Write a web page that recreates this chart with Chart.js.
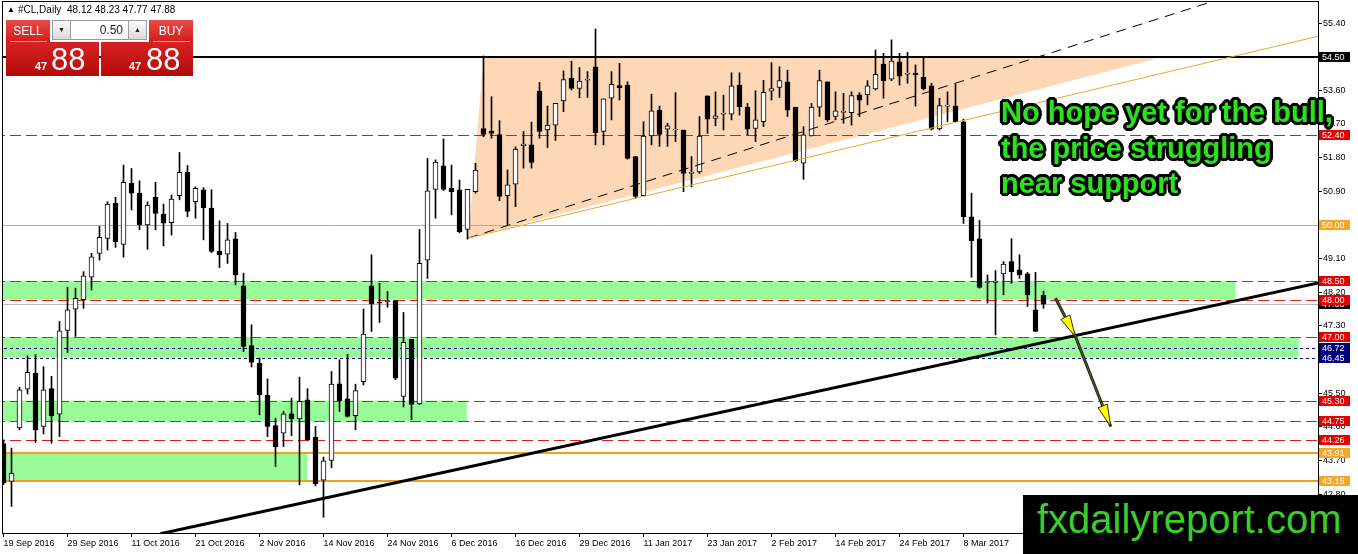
<!DOCTYPE html>
<html>
<head>
<meta charset="utf-8">
<title>#CL Daily</title>
<script src="https://cdn.jsdelivr.net/npm/chart.js@4.4.1/dist/chart.umd.min.js"></script>
<style>
  html, body { margin: 0; padding: 0; background: #fff; }
  #wrap { position: relative; width: 1358px; height: 554px; overflow: hidden; font-family: "Liberation Sans", Arial, sans-serif; }
  #c { position: absolute; left: 0; top: 0; }
  .abs { position: absolute; white-space: nowrap; }
  .hdr { font-size: 10px; line-height: 12px; top: 4px; color: #000; }
  .red { background: linear-gradient(#ea4a46, #d21c1c); color: #fff; }
  .big { background: linear-gradient(#d82222, #b40a0a); color: #fff; }
  .grey { background: linear-gradient(#fbfbfb, #d9d9d9); border: 1px solid #9c9c9c; box-sizing: border-box; color: #222; font-size: 7px; text-align: center; line-height: 18px; }
  .note { left: 1001px; font-weight: bold; font-size: 29px; line-height: 35.5px; color: #2be31c;
    text-shadow: 3px 0 #000, -3px 0 #000, 0 3px #000, 0 -3px #000, 2px 2px #000, -2px -2px #000, 2px -2px #000, -2px 2px #000,
                 3px 1px #000, -3px 1px #000, 3px -1px #000, -3px -1px #000, 1px 3px #000, -1px 3px #000, 1px -3px #000, -1px -3px #000; }
</style>
</head>
<body>
<div id="wrap">
  <canvas id="c" width="1358" height="554"></canvas>

  <!-- symbol header -->
  <div class="abs hdr" style="left:7px;font-size:8px;">&#9650;</div>
  <div class="abs hdr" style="left:18px;">#CL,Daily</div>
  <div class="abs hdr" style="left:67px;">48.12 48.23 47.77 47.88</div>

  <!-- one click trading panel -->
  <div class="abs red" style="left:6px;top:20px;width:44px;height:22px;font-size:12px;line-height:22px;text-align:center;">SELL</div>
  <div class="abs grey" style="left:52px;top:20px;width:19px;height:20px;">&#9660;</div>
  <div class="abs" style="left:71px;top:20px;width:57px;height:20px;background:#fff;border-top:1px solid #9c9c9c;border-bottom:1px solid #9c9c9c;box-sizing:border-box;font-size:12px;line-height:18px;text-align:right;padding-right:5px;color:#222;">0.50</div>
  <div class="abs grey" style="left:128px;top:20px;width:19px;height:20px;">&#9650;</div>
  <div class="abs red" style="left:149px;top:20px;width:44px;height:22px;font-size:12px;line-height:22px;text-align:center;">BUY</div>
  <div class="abs" style="left:10px;top:41px;width:37px;height:1px;background:#f29a9a;"></div>
  <div class="abs" style="left:153px;top:41px;width:37px;height:1px;background:#f29a9a;"></div>
  <div class="abs big" style="left:6px;top:42px;width:93px;height:34px;">
    <span class="abs" style="left:29px;top:18.7px;font-size:11px;line-height:11px;font-weight:bold;">47</span>
    <span class="abs" style="left:45px;top:1.8px;font-size:31px;line-height:31px;">88</span>
  </div>
  <div class="abs big" style="left:101px;top:42px;width:92px;height:34px;">
    <span class="abs" style="left:28px;top:18.7px;font-size:11px;line-height:11px;font-weight:bold;">47</span>
    <span class="abs" style="left:45px;top:1.8px;font-size:31px;line-height:31px;">88</span>
  </div>

  <!-- comment -->
  <div class="abs note" style="top:95px;">No hope yet for the bull,</div>
  <div class="abs note" style="top:130.5px;">the price struggling</div>
  <div class="abs note" style="top:166px;">near support</div>

  <!-- logo -->
  <div class="abs" style="left:1023px;top:495px;width:335px;height:59px;background:#000;">
    <span class="abs" style="left:14px;top:4px;font-size:40px;line-height:40px;color:#3ccd2a;">fxdailyreport.com</span>
  </div>
</div>

<script>
// daily bars, oldest first (19 Sep 2016 .. 22 Mar 2017)
const opens = [
  44.15, 43.14, 44.57, 45.61, 46.04, 44.61, 45.62, 44.94, 47.18, 47.75,
  48.00, 48.60, 49.24, 49.64, 50.58, 49.48, 51.12, 50.85, 50.00, 50.74,
  50.29, 50.06, 50.78, 51.41, 50.62, 50.94, 50.45, 49.30, 49.22, 49.63,
  48.37, 46.77, 46.30, 45.45, 44.63, 44.43, 44.95, 44.81, 45.32, 44.32,
  43.17, 43.70, 45.75, 45.35, 44.90, 45.81, 48.37, 47.93, 47.95, 47.98,
  45.41, 46.94, 45.21, 49.06, 50.95, 51.58, 50.98, 50.94, 49.88, 50.89,
  52.58, 52.51, 52.42, 50.78, 51.09, 52.12, 52.14, 53.58, 52.54, 52.67,
  53.32, 53.92, 53.65, 53.87, 54.23, 52.50, 53.39, 53.73, 53.74, 51.83,
  50.78, 52.38, 53.07, 52.56, 52.54, 52.54, 51.38, 51.42, 53.45, 52.85,
  52.96, 52.96, 53.74, 53.15, 52.58, 52.76, 53.58, 53.68, 53.83, 53.15,
  51.65, 52.38, 53.15, 53.83, 52.90, 53.01, 53.00, 53.48, 53.48, 53.64,
  54.30, 53.90, 54.36, 54.03, 54.06, 53.95, 53.72, 52.57, 53.18, 53.18,
  52.76, 50.22, 49.63, 48.46, 48.46, 48.69, 49.02, 48.80, 48.69, 47.73,
  48.12
];
const highs = [
  44.25, 44.03, 45.66, 46.50, 46.53, 46.21, 45.95, 47.42, 48.33, 48.31,
  48.75, 49.24, 49.96, 50.62, 50.74, 51.60, 51.51, 51.18, 50.62, 51.14,
  50.56, 50.80, 51.94, 51.59, 51.02, 51.00, 50.94, 50.11, 50.04, 49.80,
  48.71, 47.33, 46.44, 45.88, 44.83, 45.01, 45.37, 45.93, 45.62, 44.61,
  43.79, 46.08, 46.39, 46.54, 45.74, 47.75, 49.20, 48.44, 48.22, 47.98,
  47.66, 46.94, 49.88, 51.78, 51.74, 52.30, 51.60, 51.20, 50.95, 51.65,
  54.52, 53.43, 52.79, 51.47, 52.09, 52.50, 52.75, 53.81, 53.18, 53.25,
  54.12, 54.38, 54.21, 54.10, 55.24, 53.37, 54.10, 54.32, 53.83, 51.83,
  52.76, 53.50, 53.18, 52.72, 53.54, 52.54, 51.83, 52.90, 53.45, 53.56,
  53.47, 54.07, 54.07, 53.25, 53.59, 53.87, 54.34, 54.23, 54.14, 53.15,
  52.63, 53.25, 54.14, 53.83, 53.56, 53.52, 53.56, 53.54, 53.86, 54.68,
  54.59, 54.95, 54.59, 54.62, 54.28, 54.46, 53.79, 53.39, 53.56, 53.76,
  52.83, 50.85, 50.12, 48.66, 48.78, 49.02, 49.63, 49.20, 48.73, 48.73,
  48.23
];
const lows = [
  43.05, 42.47, 44.52, 45.48, 44.18, 44.41, 44.16, 44.34, 46.59, 47.02,
  47.77, 48.26, 49.06, 49.33, 49.40, 49.14, 50.40, 49.87, 49.35, 49.87,
  49.44, 49.73, 50.67, 50.22, 50.18, 49.60, 49.26, 48.86, 48.97, 48.40,
  46.61, 46.20, 44.92, 44.34, 43.54, 44.07, 44.36, 43.05, 44.25, 43.02,
  42.18, 43.51, 45.01, 44.86, 44.52, 45.72, 47.15, 47.39, 47.80, 45.86,
  45.13, 44.79, 45.19, 48.57, 50.18, 50.92, 50.27, 49.79, 49.62, 50.85,
  52.36, 52.32, 50.65, 50.00, 50.49, 51.52, 51.52, 52.32, 52.07, 52.26,
  53.03, 53.61, 53.40, 53.41, 52.14, 52.14, 52.81, 53.34, 51.76, 50.71,
  50.78, 52.14, 52.10, 52.10, 52.23, 50.89, 51.02, 51.38, 52.45, 52.65,
  52.54, 52.81, 52.94, 52.41, 52.23, 52.63, 53.34, 53.41, 52.90, 51.69,
  51.22, 52.38, 52.90, 52.76, 52.81, 52.72, 52.67, 52.90, 53.21, 53.61,
  53.39, 53.86, 53.74, 53.79, 53.18, 53.61, 52.54, 52.54, 52.76, 52.76,
  50.04, 48.60, 48.31, 47.91, 47.06, 48.13, 48.44, 48.57, 47.82, 47.15,
  47.77
];
const closes = [
  43.10, 43.36, 45.59, 46.06, 44.52, 45.59, 44.90, 47.17, 47.73, 48.04,
  48.64, 49.15, 49.67, 50.56, 49.55, 51.14, 50.85, 50.00, 50.53, 50.31,
  50.05, 50.69, 51.41, 50.36, 50.98, 50.46, 49.29, 49.20, 49.60, 48.66,
  46.75, 46.32, 45.45, 44.61, 44.07, 44.95, 44.81, 45.28, 44.25, 43.08,
  43.69, 45.74, 45.30, 44.88, 45.57, 47.08, 47.89, 47.91, 47.98, 45.90,
  46.86, 45.20, 48.97, 50.91, 51.68, 50.95, 50.89, 49.82, 50.95, 51.47,
  52.42, 52.45, 50.76, 51.07, 52.03, 52.16, 51.67, 52.50, 52.67, 53.25,
  53.89, 53.65, 53.85, 53.89, 52.47, 53.37, 53.76, 53.67, 51.78, 50.76,
  52.38, 53.05, 52.42, 52.65, 52.54, 51.38, 51.38, 52.38, 52.83, 52.92,
  52.96, 53.72, 53.16, 52.56, 52.81, 53.55, 53.65, 53.86, 53.07, 51.72,
  52.41, 53.15, 53.86, 52.81, 53.05, 53.01, 53.46, 53.34, 53.72, 54.03,
  53.85, 54.38, 53.98, 54.03, 54.01, 53.64, 52.56, 53.19, 53.18, 52.76,
  50.22, 49.58, 48.33, 48.46, 48.50, 48.95, 48.75, 48.66, 48.13, 47.15,
  47.88
];

// date labels, one every 8 bars
const dateTicks = [
  '19 Sep 2016', '29 Sep 2016', '11 Oct 2016', '21 Oct 2016', '2 Nov 2016', '14 Nov 2016',
  '24 Nov 2016', '6 Dec 2016', '16 Dec 2016', '29 Dec 2016', '11 Jan 2017', '23 Jan 2017',
  '2 Feb 2017', '14 Feb 2017', '24 Feb 2017', '8 Mar 2017'
];
const priceTicks = [55.40, 54.50, 53.60, 52.70, 51.80, 50.90, 50.00, 49.10, 48.20, 47.30, 46.40, 45.50, 44.60, 43.70, 42.80];

// drawn objects on the chart (bar index / price)
const RED = '#dc1c1c', ORANGE = '#f0a21e', GOLD = '#e8a82a', NAVY = '#00007a';
const DASH = [11, 5];
const levels = [
  { p: 54.50, color: '#000', w: 2, dash: [], label: '#000' },
  { p: 52.40, color: RED, w: 1, dash: DASH, label: '#e60000' },
  { p: 50.00, color: GOLD, w: 1, dash: [], label: '#f5a623' },
  { p: 48.50, color: RED, w: 1, dash: DASH, label: '#e60000' },
  { p: 47.88, color: '#b8b8b8', w: 1, dash: [], label: '#000' },
  { p: 48.00, color: RED, w: 1, dash: DASH, label: '#e60000' },
  { p: 47.00, color: RED, w: 1, dash: DASH, label: '#e60000' },
  { p: 46.72, color: NAVY, w: 1, dash: [3, 3], label: NAVY },
  { p: 46.45, color: NAVY, w: 1, dash: [3, 3], label: NAVY },
  { p: 45.30, color: RED, w: 1, dash: DASH, label: '#e60000' },
  { p: 44.75, color: RED, w: 1, dash: DASH, label: '#e60000' },
  { p: 44.26, color: RED, w: 1, dash: DASH, label: '#e60000' },
  { p: 43.91, color: ORANGE, w: 2, dash: [], label: '#f5a623' },
  { p: 43.15, color: ORANGE, w: 2, dash: [], label: '#f5a623' }
];
const zones = [
  { lo: 48.00, hi: 48.50, end: 154.0 },
  { lo: 46.45, hi: 47.00, end: 161.9 },
  { lo: 44.75, hi: 45.30, end: 57.9 },
  { lo: 43.15, hi: 43.91, end: 38.0 }
];
const wedge = [[60.0, 54.48], [58.1, 49.65], [144.25, 54.46]];
const trendLines = [
  { a: [58.1, 49.65], b: [150.6, 55.94], color: '#000', w: 1, dash: [10, 7] },
  { a: [58.1, 49.65], b: [164.4, 55.05], color: GOLD, w: 1, dash: [] },
  { a: [19.6, 41.74], b: [164.4, 48.45], color: '#000', w: 3, dash: [] }
];
const arrowPath = [[131.5, 48.04], [134.0, 47.01], [138.4, 44.61]];

const bodies = opens.map((o, i) => ({ x: i, y: [o, closes[i]] }));
const wicks = lows.map((l, i) => ({ x: i, y: [l, highs[i]] }));

function head(ctx, x0, y0, x1, y1) {
  const a = Math.atan2(y1 - y0, x1 - x0), len = 22, half = 5;
  const bx = x1 - len * Math.cos(a), by = y1 - len * Math.sin(a);
  ctx.beginPath();
  ctx.moveTo(x1, y1);
  ctx.lineTo(bx + half * Math.sin(a), by - half * Math.cos(a));
  ctx.lineTo(bx - half * Math.sin(a), by + half * Math.cos(a));
  ctx.closePath();
  ctx.fillStyle = '#ffff00';
  ctx.fill();
  ctx.strokeStyle = '#303020';
  ctx.lineWidth = 1;
  ctx.stroke();
}

// no extra padding for edge tick labels, so the plot fills the frame
function noEdgePad(s) {
  s.paddingTop = 0;
  s.paddingBottom = 0;
  s.paddingLeft = 0;
  s.paddingRight = 0;
}

const objects = {
  id: 'objects',
  beforeDatasetsDraw(chart) {
    const { ctx, chartArea: ca, scales: { x, y } } = chart;
    ctx.save();
    ctx.beginPath();
    ctx.rect(ca.left, ca.top, ca.right - ca.left, ca.bottom - ca.top);
    ctx.clip();
    // green zones
    ctx.fillStyle = '#98fb98';
    zones.forEach(z => {
      const t = y.getPixelForValue(z.hi), b = y.getPixelForValue(z.lo);
      ctx.fillRect(ca.left, t, x.getPixelForValue(z.end) - ca.left, b - t);
    });
    // wedge
    ctx.beginPath();
    wedge.forEach((pt, k) => {
      const px = x.getPixelForValue(pt[0]), py = y.getPixelForValue(pt[1]);
      k ? ctx.lineTo(px, py) : ctx.moveTo(px, py);
    });
    ctx.closePath();
    ctx.fillStyle = '#fdd7b6';
    ctx.fill();
    // horizontal levels
    levels.forEach(l => {
      const py = Math.round(y.getPixelForValue(l.p)) + (l.w % 2 ? 0.5 : 0);
      ctx.beginPath();
      ctx.setLineDash(l.dash);
      ctx.lineDashOffset = -7;
      ctx.strokeStyle = l.color;
      ctx.lineWidth = l.w;
      ctx.moveTo(ca.left, py);
      ctx.lineTo(ca.right, py);
      ctx.stroke();
    });
    ctx.restore();
  },
  afterDatasetsDraw(chart) {
    const { ctx, chartArea: ca, scales: { x, y } } = chart;
    ctx.save();
    ctx.beginPath();
    ctx.rect(ca.left, ca.top, ca.right - ca.left, ca.bottom - ca.top);
    ctx.clip();
    trendLines.forEach(t => {
      ctx.beginPath();
      ctx.setLineDash(t.dash);
      ctx.strokeStyle = t.color;
      ctx.lineWidth = t.w;
      ctx.moveTo(x.getPixelForValue(t.a[0]), y.getPixelForValue(t.a[1]));
      ctx.lineTo(x.getPixelForValue(t.b[0]), y.getPixelForValue(t.b[1]));
      ctx.stroke();
    });
    ctx.setLineDash([]);
    const pts = arrowPath.map(p => [x.getPixelForValue(p[0]), y.getPixelForValue(p[1])]);
    ctx.beginPath();
    pts.forEach((p, k) => k ? ctx.lineTo(p[0], p[1]) : ctx.moveTo(p[0], p[1]));
    ctx.strokeStyle = '#262616';
    ctx.lineWidth = 3;
    ctx.stroke();
    ctx.beginPath();
    pts.forEach((p, k) => k ? ctx.lineTo(p[0], p[1]) : ctx.moveTo(p[0], p[1]));
    ctx.strokeStyle = '#5a5a30';
    ctx.lineWidth = 1;
    ctx.stroke();
    for (let k = 1; k < pts.length; k++) head(ctx, pts[k - 1][0], pts[k - 1][1], pts[k][0], pts[k][1]);
    ctx.restore();
  },
  afterDraw(chart) {
    const { ctx, chartArea: ca, scales: { y } } = chart;
    ctx.save();
    // frame
    ctx.strokeStyle = '#000';
    ctx.lineWidth = 1;
    ctx.strokeRect(ca.left - 0.5, ca.top - 0.5, ca.right - ca.left + 1, ca.bottom - ca.top + 1);
    // price tags on the axis
    ctx.font = '9px "Liberation Sans", Arial, sans-serif';
    ctx.textBaseline = 'middle';
    levels.forEach(l => {
      const py = Math.round(y.getPixelForValue(l.p));
      ctx.fillStyle = l.label;
      ctx.fillRect(ca.right + 1, py - 5, 31, 10);
      ctx.fillStyle = '#fff';
      ctx.fillText(l.p.toFixed(2), ca.right + 4, py + 0.5);
    });
    ctx.restore();
  }
};

new Chart(document.getElementById('c'), {
  type: 'bar',
  data: {
    datasets: [
      { data: bodies, order: 0, grouped: false, barThickness: 5, minBarLength: 1,
        backgroundColor: bodies.map(d => d.y[1] >= d.y[0] ? '#fff' : '#000'),
        borderColor: '#000', borderWidth: 1, borderSkipped: false },
      { data: wicks, order: 1, grouped: false, barThickness: 1,
        backgroundColor: '#000', borderWidth: 0 }
    ]
  },
  options: {
    responsive: false,
    animation: false,
    events: [],
    layout: { padding: { left: 3, top: 2, right: 0, bottom: 0 } },
    plugins: { legend: { display: false }, tooltip: { enabled: false } },
    scales: {
      x: {
        type: 'linear',
        offset: false,
        bounds: 'data',
        min: -0.0625,
        max: 164.3125,
        afterBuildTicks: s => { s.ticks = dateTicks.map((_, k) => ({ value: k * 8 })); },
        afterFit: s => { s.height = 21; noEdgePad(s); },
        grid: { display: true, drawOnChartArea: false, offset: false, tickLength: 4, color: '#000' },
        border: { display: true, color: '#000' },
        ticks: {
          autoSkip: false, maxRotation: 0, minRotation: 0, align: 'start', padding: 1,
          color: '#000', font: { family: '"Liberation Sans", Arial, sans-serif', size: 9 },
          callback: v => dateTicks[Math.round(v / 8)]
        }
      },
      y: {
        position: 'right',
        min: 41.76,
        max: 55.963,
        bounds: 'data',
        afterBuildTicks: s => { s.ticks = priceTicks.map(v => ({ value: v })); },
        afterFit: s => { s.width = 40; noEdgePad(s); },
        grid: { display: true, drawOnChartArea: false, tickLength: 4, color: '#000' },
        border: { display: true, color: '#000' },
        ticks: {
          padding: 1, color: '#000',
          font: { family: '"Liberation Sans", Arial, sans-serif', size: 9 },
          callback: v => Number(v).toFixed(2)
        }
      }
    }
  },
  plugins: [objects]
});
</script>
</body>
</html>
